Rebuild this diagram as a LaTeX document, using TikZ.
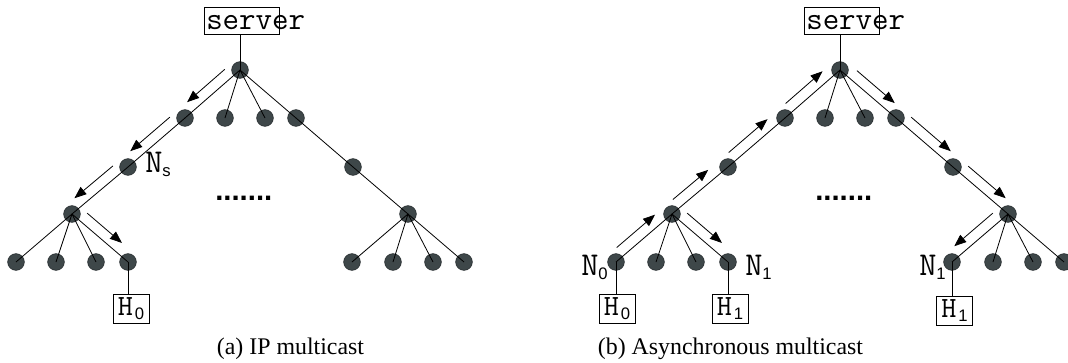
\documentclass[tikz,border=0pt]{standalone}
\usepackage{fontspec}
\setmainfont{Liberation Serif}
\newfontfamily\tsans{Liberation Sans}
\usetikzlibrary{arrows.meta,calc}
\definecolor{nodefill}{HTML}{3E4749}
\definecolor{nodeedge}{HTML}{2B3133}
\tikzset{
  treedot/.style={circle,fill=nodefill,draw=nodeedge,line width=0.5pt,minimum size=12.5pt,inner sep=0pt},
  edge/.style={line width=0.6pt},
  flow/.style={line width=0.6pt,-{Triangle[length=9pt,width=7pt]},shorten <=8.25pt,shorten >=9pt},
  hostbox/.style={draw,line width=0.6pt,inner sep=0pt,minimum width=27pt,minimum height=22pt,font=\ttfamily\fontsize{22}{24}\selectfont},
  srvbox/.style={draw,line width=0.6pt,inner sep=0pt,minimum width=56.25pt,minimum height=20.25pt},
  srvtext/.style={inner sep=0pt,anchor=base west,font=\ttfamily\fontsize{24}{26}\selectfont},
  nlabel/.style={inner sep=0pt,font=\ttfamily\fontsize{25}{27}\selectfont},
  caption/.style={inner sep=0pt,anchor=base,font=\fontsize{17.9}{21}\selectfont},
  dotsrow/.style={inner sep=0pt,anchor=base west,font=\tsans\bfseries\fontsize{22}{26}\selectfont}
}
\newcommand\sub[1]{\raisebox{-3pt}{\tsans\fontsize{12.5}{14}\selectfont #1}}
\newcommand\flowarrow[4][]{\draw[flow,#1] ($(#2)!7.9pt!#4:(#3)$) -- ($(#3)!-7.9pt!#4:(#2)$);}
\newcommand\drawtree[2]{%
  \begin{scope}[xshift=#2]
  \node[srvbox] (#1S) at (241.5,20.5) {};
  \node[srvtext] (#1St) at (206,29) {server};
  \node[treedot] (#1R) at (240,70) {};
  \node[treedot] (#1A) at (185,118) {};
  \node[treedot] (#1B) at (225,118) {};
  \node[treedot] (#1C) at (265,118) {};
  \node[treedot] (#1D) at (296,118) {};
  \node[treedot] (#1E) at (128,167) {};
  \node[treedot] (#1F) at (353,167) {};
  \node[treedot] (#1G) at (72,214) {};
  \node[treedot] (#1H) at (408,214) {};
  \node[treedot] (#1g1) at (16,262) {};
  \node[treedot] (#1g2) at (56,262) {};
  \node[treedot] (#1g3) at (96,262) {};
  \node[treedot] (#1g4) at (128,262) {};
  \node[treedot] (#1h1) at (352,262) {};
  \node[treedot] (#1h2) at (393,262) {};
  \node[treedot] (#1h3) at (433,262) {};
  \node[treedot] (#1h4) at (464,262) {};
  \draw[edge] (#1S.south -| #1R) -- (#1R.center);
  \foreach \c in {A,B,C,D} {\draw[edge] (#1R.center) -- (#1\c.center);}
  \draw[edge] (#1A.center) -- (#1E.center) -- (#1G.center);
  \draw[edge] (#1D.center) -- (#1F.center) -- (#1H.center);
  \foreach \c in {1,2,3,4} {\draw[edge] (#1G.center) -- (#1g\c.center);
                            \draw[edge] (#1H.center) -- (#1h\c.center);}
  \node[dotsrow] (#1dots) at (215,200) {.......};
  \end{scope}}
\begin{document}
\begin{tikzpicture}[x=0.75pt,y=-0.75pt]
\useasboundingbox (0,0) rectangle (1068,362);
\drawtree{a}{0pt}
\drawtree{b}{450pt}
% tree (a)
\node[hostbox] (aH0) at (131,309) {H\hspace{1.5pt}\sub{0}};
\draw[edge] (ag4.center) -- (aH0.north -| ag4);
\node[nlabel,anchor=base west] (aNs) at (145,172.5) {N\sub{s}};
\flowarrow{aR}{aA}{-90}
\flowarrow{aA}{aE}{-90}
\flowarrow{aE}{aG}{-90}
\flowarrow[shorten >=12.75pt]{aG}{ag4}{90}
\node[caption] (capa) at (290.5,354) {(a) IP multicast};
% tree (b)
\node[hostbox] (bH0) at (617,309) {H\hspace{1.5pt}\sub{0}};
\draw[edge] (bg1.center) -- (bH0.north -| bg1);
\node[hostbox] (bH1) at (730,309) {H\hspace{1.5pt}\sub{1}};
\draw[edge] (bg4.center) -- (bH1.north -| bg4);
\node[hostbox] (bH2) at (954.5,311) {H\hspace{1.5pt}\sub{1}};
\draw[edge] (bh1.center) -- (bH2.north -| bh1);
\node[nlabel,anchor=base east] (bN0) at (608,275.5) {N\sub{0}};
\node[nlabel,anchor=base west] (bN1) at (745,275.5) {N\sub{1}};
\node[nlabel,anchor=base east] (bN2) at (946,275.5) {N\sub{1}};
\flowarrow[shorten <=7.5pt,shorten >=10pt]{bg1}{bG}{90}
\flowarrow[shorten <=7.5pt,shorten >=12.75pt]{bG}{bE}{90}
\flowarrow[shorten <=7.5pt,shorten >=10.5pt]{bE}{bA}{90}
\flowarrow[shorten <=7.5pt,shorten >=10.5pt]{bA}{bR}{90}
\flowarrow[shorten <=10pt,shorten >=8pt]{bR}{bD}{90}
\flowarrow{bD}{bF}{90}
\flowarrow{bF}{bH}{90}
\flowarrow{bH}{bh1}{-90}
\flowarrow[shorten >=12.75pt]{bG}{bg4}{90}
\node[caption] (capb) at (730.5,354) {(b) Asynchronous multicast};
\end{tikzpicture}
\end{document}
